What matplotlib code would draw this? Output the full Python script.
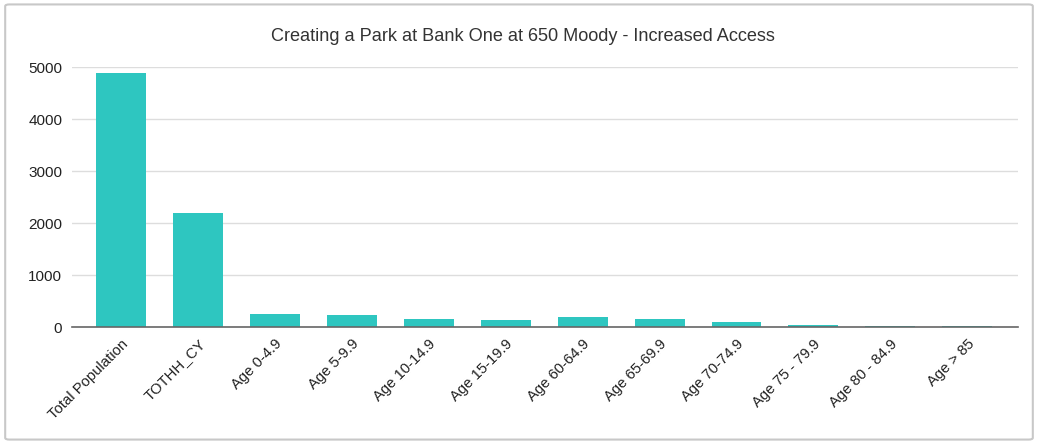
import matplotlib
matplotlib.use("Agg")
import matplotlib.pyplot as plt
from matplotlib.patches import FancyBboxPatch

categories = ["Total Population", "TOTHH_CY", "Age 0-4.9", "Age 5-9.9", "Age 10-14.9",
              "Age 15-19.9", "Age 60-64.9", "Age 65-69.9", "Age 70-74.9", "Age 75 - 79.9",
              "Age 80 - 84.9", "Age > 85"]
values = [4880, 2190, 255, 225, 155, 135, 200, 150, 95, 45, 25, 20]
yticks = [0, 1000, 2000, 3000, 4000, 5000]
title = "Creating a Park at Bank One at 650 Moody - Increased Access"

plt.rcParams['font.family'] = ['Liberation Sans', 'DejaVu Sans']

fig = plt.figure(figsize=(10.38, 4.44), dpi=100)
# outer frame
frame = FancyBboxPatch((0.005, 0.01), 0.99, 0.98, boxstyle="round,pad=0,rounding_size=0.004",
                       transform=fig.transFigure, facecolor="none", edgecolor="#c8c8c8",
                       linewidth=1.5, zorder=10)
fig.patches.append(frame)

ax = fig.add_axes([0.0694, 0.2635, 0.9113, 0.5855])
x = list(range(len(categories)))
ax.bar(x, values, width=0.65, color="#2ec6c0", zorder=3)
ax.set_xlim(-0.64, 11.66)
ax.set_ylim(0, 5000)
ax.set_yticks(yticks)
ax.set_yticklabels([str(t) for t in yticks], fontsize=11, color="#222222")
ax.set_xticks(x)
ax.set_xticklabels(categories, rotation=45, ha="right", rotation_mode="anchor",
                   fontsize=10.7, color="#222222")
ax.tick_params(axis="y", length=0, pad=7)
ax.tick_params(axis="x", length=0, pad=7)
ax.grid(axis="y", color="#dddddd", linewidth=1, zorder=0)
for s in ["top", "right", "left"]:
    ax.spines[s].set_visible(False)
ax.spines["bottom"].set_color("#666666")
ax.spines["bottom"].set_linewidth(1.2)
ax.spines["bottom"].set_zorder(4)
ax.set_facecolor("none")

fig.text(0.5034, 0.918, title, ha="center", va="center", fontsize=13.1, color="#333333")

fig.savefig("out.png", dpi=100)
